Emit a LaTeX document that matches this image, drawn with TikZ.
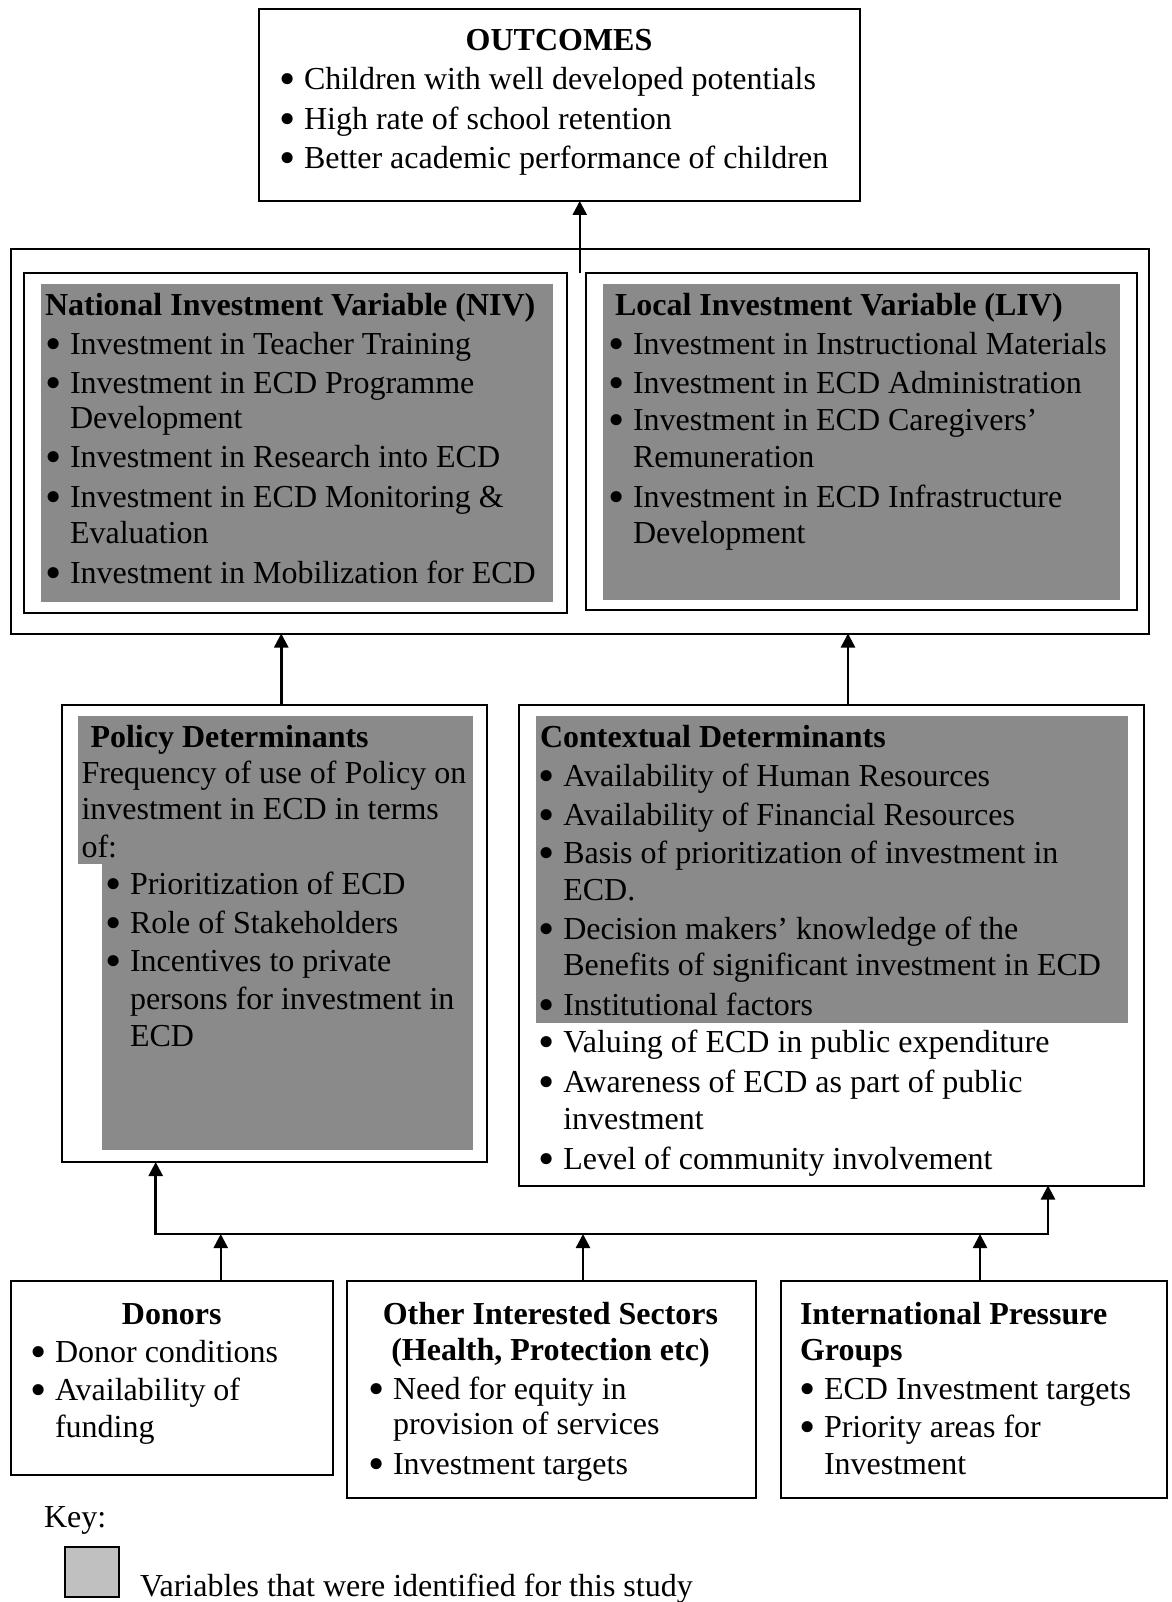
\documentclass[tikz,border=0pt]{standalone}
\usepackage{fontspec}
\usepackage{graphicx}
\setmainfont{Liberation Serif}
\usetikzlibrary{arrows.meta,calc}
\definecolor{fillgray}{HTML}{8A8A8A}
\definecolor{keygray}{HTML}{C0C0C0}
\newcommand\bu{\llap{\rlap{\raisebox{-5pt}{\scalebox{1.45}{\textbullet}}}\hspace{25pt}}}
\newcommand\mkbox[6]{\node[#6, anchor=north west, minimum width={#4-#2}, minimum height={#5-#3}] (#1) at (#2,#3) {};}
\tikzset{
  box/.style={draw, line width=2pt, inner sep=0pt, outer sep=0pt},
  gbox/.style={fill=fillgray, draw=none, inner sep=0pt, outer sep=0pt},
  kbox/.style={fill=keygray, draw, line width=1.8pt, inner sep=0pt, outer sep=0pt},
  txt/.style={anchor=base west, inner sep=0pt, outer sep=0pt, yshift=-2.5pt, font=\fontsize{32}{36}\selectfont},
  ttl/.style={txt, font=\fontsize{32}{36}\selectfont\bfseries},
  cttl/.style={ttl, anchor=base},
  arr/.style={line width=2.5pt, -{Triangle[length=14pt,width=14pt]}},
  darr/.style={line width=2.5pt, {Triangle[length=14pt,width=14pt]}-{Triangle[length=14pt,width=14pt]}, line join=miter}
}
\begin{document}
\begin{tikzpicture}[x=1pt, y=-1pt]
\useasboundingbox (0,0) rectangle (1171,1602);
% boxes
\mkbox{outcomes}{258.5}{9.5}{859.5}{201}{box}
\mkbox{outer}{10.5}{249.3}{1149}{633.5}{box}
\mkbox{nivW}{24.3}{272.7}{567}{612.5}{box}
\mkbox{nivG}{40.7}{284}{552.5}{602}{gbox}
\mkbox{livW}{585.7}{273}{1137}{610}{box}
\mkbox{livG}{603.3}{284.3}{1120}{600}{gbox}
\mkbox{policy}{61.5}{705.4}{487}{1162}{box}
\mkbox{polG1}{78.3}{716}{473}{864}{gbox}
\mkbox{polG2}{102.3}{863.5}{473}{1150}{gbox}
\mkbox{ctx}{519}{705.4}{1144}{1185.5}{box}
\mkbox{ctxG}{535.5}{716}{1128}{1022.7}{gbox}
\mkbox{donors}{11}{1281}{332.5}{1475}{box}
\mkbox{other}{347}{1281}{755.5}{1497.5}{box}
\mkbox{ipg}{781}{1281}{1166.5}{1497.5}{box}
\mkbox{keysq}{65}{1547.3}{119.3}{1597}{kbox}
% connectors
\draw[arr] (outer.north |- nivW.north) -- (outer.north |- outcomes.south);
\draw[arr] ([xshift=7pt]policy.north) -- ([xshift=7pt]policy.north |- outer.south);
\draw[arr] ([xshift=16.5pt]ctx.north) -- ([xshift=16.5pt]ctx.north |- outer.south);
\coordinate (busL) at (155.7,1234);
\coordinate (busR) at (1048,1234);
\draw[darr] (busL |- policy.south) -- (busL) -- (busR) -- (busR |- ctx.south);
\draw[arr] ([xshift=49pt]donors.north) -- ([xshift=49pt]donors.north |- busL);
\draw[arr] ([xshift=31.75pt]other.north) -- ([xshift=31.75pt]other.north |- busL);
\draw[arr] ([xshift=6.25pt]ipg.north) -- ([xshift=6.25pt]ipg.north |- busL);
% outcomes text
\node[cttl] (oT) at (559,48.3) {OUTCOMES};
\node[txt] (o1) at (304,87.3) {\bu Children with well developed potentials};
\node[txt] (o2) at (304,126.7) {\bu High rate of school retention};
\node[txt] (o3) at (304,165.7) {\bu Better academic performance of children};
% NIV
\node[ttl] (nT) at (45,313) {National Investment Variable (NIV)};
\node[txt] (n1) at (70,351.7) {\bu Investment in Teacher Training};
\node[txt] (n2) at (70,390.5) {\bu Investment in ECD Programme};
\node[txt] (n2b) at (70,426.3) {Development};
\node[txt] (n3) at (70,465.1) {\bu Investment in Research into ECD};
\node[txt] (n4) at (70,505) {\bu Investment in ECD Monitoring \&};
\node[txt] (n4b) at (70,540.8) {Evaluation};
\node[txt] (n5) at (70,580.6) {\bu Investment in Mobilization for ECD};
% LIV
\node[ttl] (lT) at (615,313) {Local Investment Variable (LIV)};
\node[txt] (l1) at (633,351.7) {\bu Investment in Instructional Materials};
\node[txt] (l2) at (633,390.5) {\bu Investment in ECD Administration};
\node[txt] (l3) at (633,428.4) {\bu Investment in ECD Caregivers’};
\node[txt] (l3b) at (633,465.1) {Remuneration};
\node[txt] (l4) at (633,505) {\bu Investment in ECD Infrastructure};
\node[txt] (l4b) at (633,540.8) {Development};
% Policy
\node[ttl] (pT) at (90.5,744.5) {Policy Determinants};
\node[txt] (p0a) at (81.5,781) {Frequency of use of Policy on};
\node[txt] (p0b) at (81.5,817) {investment in ECD in terms};
\node[txt] (p0c) at (81.5,855) {of:};
\node[txt] (p1) at (130,891.7) {\bu Prioritization of ECD};
\node[txt] (p2) at (130,930.5) {\bu Role of Stakeholders};
\node[txt] (p3) at (130,969.3) {\bu Incentives to private};
\node[txt] (p3b) at (130,1007.1) {persons for investment in};
\node[txt] (p3c) at (130,1043.9) {ECD};
% Contextual
\node[ttl] (cT) at (540,744.5) {Contextual Determinants};
\node[txt] (c1) at (563.3,784) {\bu Availability of Human Resources};
\node[txt] (c2) at (563.3,823) {\bu Availability of Financial Resources};
\node[txt] (c3) at (563.3,861) {\bu Basis of prioritization of investment in};
\node[txt] (c3b) at (563.3,897.5) {ECD.};
\node[txt] (c4) at (563.3,937) {\bu Decision makers’ knowledge of the};
\node[txt] (c4b) at (563.3,973) {Benefits of significant investment in ECD};
\node[txt] (c5) at (563.3,1013.3) {\bu Institutional factors};
\node[txt] (c6) at (563.3,1050) {\bu Valuing of ECD in public expenditure};
\node[txt] (c7) at (563.3,1090) {\bu Awareness of ECD as part of public};
\node[txt] (c7b) at (563.3,1127) {investment};
\node[txt] (c8) at (563.3,1166.5) {\bu Level of community involvement};
% Donors
\node[cttl] (dT) at (171.75,1321.7) {Donors};
\node[txt] (d1) at (55,1360) {\bu Donor conditions};
\node[txt] (d2) at (55,1398.3) {\bu Availability of};
\node[txt] (d2b) at (55,1435) {funding};
% Other
\node[cttl] (sT1) at (550.5,1321.7) {Other Interested Sectors};
\node[cttl] (sT2) at (550.5,1358) {(Health, Protection etc)};
\node[txt] (s1) at (393,1396.6) {\bu Need for equity in};
\node[txt] (s1b) at (393,1432.4) {provision of services};
\node[txt] (s2) at (393,1472) {\bu Investment targets};
% IPG
\node[ttl] (iT1) at (800,1321.7) {International Pressure};
\node[ttl] (iT2) at (800,1358.3) {Groups};
\node[txt] (i1) at (824,1396.7) {\bu ECD Investment targets};
\node[txt] (i2) at (824,1435) {\bu Priority areas for};
\node[txt] (i2b) at (824,1471.7) {Investment};
% Key
\node[txt] (kT) at (44,1525) {Key:};
\node[txt] (kL) at (140,1594) {Variables that were identified for this study};
\end{tikzpicture}
\end{document}
